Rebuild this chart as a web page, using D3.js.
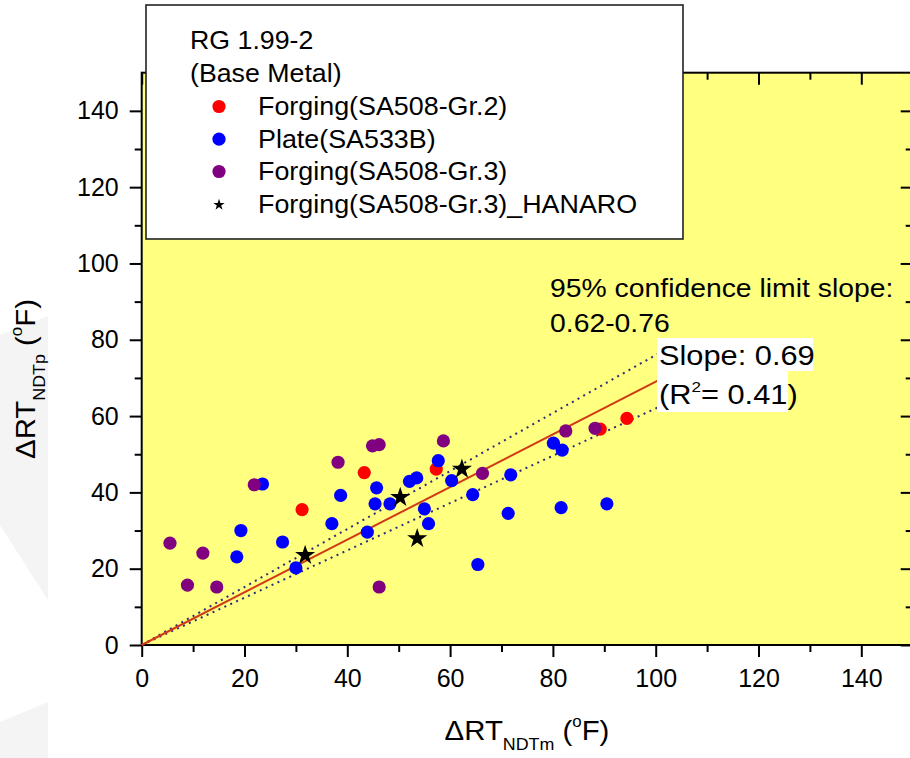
<!DOCTYPE html>
<html>
<head>
<meta charset="utf-8">
<script src="https://cdn.jsdelivr.net/npm/d3@7"></script>
<style>
  html, body { margin: 0; padding: 0; background: #ffffff; }
  svg { display: block; font-family: "Liberation Sans", Arial, sans-serif; }
</style>
</head>
<body>
<svg id="chart" width="910" height="758"></svg>
<script>
// ---------------- data ----------------
const forgingGr2X = [31.2, 43.3, 57.3, 89.2, 94.4];
const forgingGr2Y = [35.5, 45.2, 46.1, 56.6, 59.4];

const plateX = [23.5, 19.3, 18.5, 27.4, 30.0, 37.0, 38.7, 43.9, 45.7, 45.4, 48.3, 52.1, 53.5,
                57.7, 60.3, 64.4, 55.0, 55.8, 65.4, 71.8, 71.3, 80.1, 81.8, 81.6, 90.5];
const plateY = [42.2, 30.0, 23.1, 27.0, 20.2, 31.8, 39.2, 29.6, 41.2, 37.0, 37.0, 42.9, 43.8,
                48.3, 43.1, 39.4, 35.7, 31.8, 21.1, 44.6, 34.5, 52.9, 51.1, 36.0, 37.0];

const forgingGr3X = [5.5, 11.9, 8.9, 14.6, 21.9, 38.2, 44.9, 46.2, 46.2, 58.7, 66.3, 82.5, 88.2];
const forgingGr3Y = [26.7, 24.1, 15.7, 15.2, 42.0, 47.9, 52.2, 52.5, 15.2, 53.5, 45.0, 56.1, 56.8];

const hanaroX = [31.8, 50.3, 53.6, 62.3];
const hanaroY = [23.5, 38.7, 27.9, 46.1];

const fitSlope = 0.69;
const lowerSlope = 0.62;
const upperSlope = 0.76;
const fitEndX = 104;
const bandEndX = 105;

const xMajorTicks = [0, 20, 40, 60, 80, 100, 120, 140];
const xMinorTicks = [10, 30, 50, 70, 90, 110, 130];
const yMajorTicks = [0, 20, 40, 60, 80, 100, 120, 140];
const yMinorTicks = [10, 30, 50, 70, 90, 110, 130];

const seriesNames = ["Forging(SA508-Gr.2)", "Plate(SA533B)", "Forging(SA508-Gr.3)", "Forging(SA508-Gr.3)_HANARO"];
const seriesColors = ["#ff0000", "#0000ff", "#800080", "#000000"];
const legendTitle1 = "RG 1.99-2";
const legendTitle2 = "(Base Metal)";

// ---------------- layout ----------------
const svg = d3.select("#chart");
const L = 141.7, R = 912.7, T = 72.7, B = 645;
const x = d3.scaleLinear().domain([0, 150]).range([L, R]);
const y = d3.scaleLinear().domain([0, 150]).range([B, T]);

// faint background watermark shapes
svg.append("polygon").attr("points", "0,335 48,316 48,600 0,525").attr("fill", "#f4f4f4");
svg.append("polygon").attr("points", "0,722 48,702 48,758 0,758").attr("fill", "#f4f4f4");

// plot background
svg.append("rect").attr("x", L).attr("y", T).attr("width", R - L).attr("height", B - T)
  .attr("fill", "#ffff80");

// axes
function styleAxis(g) {
  g.select(".domain").remove();
  g.selectAll(".tick line").attr("stroke", "#000").attr("stroke-width", 2);
  g.selectAll(".tick text").attr("fill", "#000").attr("font-size", 25)
    .attr("font-family", "Liberation Sans, Arial, sans-serif");
}
svg.append("g").attr("transform", `translate(0,${B})`)
  .call(d3.axisBottom(x).tickValues(xMajorTicks).tickSize(12).tickPadding(12).tickFormat(d3.format("d")))
  .call(styleAxis);
svg.append("g").attr("transform", `translate(0,${B})`)
  .call(d3.axisBottom(x).tickValues(xMinorTicks).tickSize(7).tickFormat(""))
  .call(styleAxis);
svg.append("g").attr("transform", `translate(${L},0)`)
  .call(d3.axisLeft(y).tickValues(yMajorTicks).tickSize(12).tickPadding(11).tickFormat(d3.format("d")))
  .call(styleAxis);
svg.append("g").attr("transform", `translate(${L},0)`)
  .call(d3.axisLeft(y).tickValues(yMinorTicks).tickSize(7).tickFormat(""))
  .call(styleAxis);
svg.append("g").attr("transform", `translate(0,${T})`)
  .call(d3.axisTop(x).tickValues(xMajorTicks).tickSize(-12).tickFormat(""))
  .call(styleAxis);
svg.append("g").attr("transform", `translate(0,${T})`)
  .call(d3.axisTop(x).tickValues(xMinorTicks).tickSize(-7).tickFormat(""))
  .call(styleAxis);
svg.append("g").attr("transform", `translate(${R},0)`)
  .call(d3.axisRight(y).tickValues(yMajorTicks).tickSize(-12).tickFormat(""))
  .call(styleAxis);
svg.append("g").attr("transform", `translate(${R},0)`)
  .call(d3.axisRight(y).tickValues(yMinorTicks).tickSize(-7).tickFormat(""))
  .call(styleAxis);

// frame
svg.append("rect").attr("x", L).attr("y", T).attr("width", R - L).attr("height", B - T)
  .attr("fill", "none").attr("stroke", "#000").attr("stroke-width", 2);

// fit and confidence lines
const line = d3.line().x(d => x(d[0])).y(d => y(d[1]));
svg.append("path").datum([[0, 0], [bandEndX, upperSlope * bandEndX]]).attr("d", line)
  .attr("fill", "none").attr("stroke", "#2b2b7a").attr("stroke-width", 2).attr("stroke-dasharray", "2,4.5");
svg.append("path").datum([[0, 0], [bandEndX, lowerSlope * bandEndX]]).attr("d", line)
  .attr("fill", "none").attr("stroke", "#2b2b7a").attr("stroke-width", 2).attr("stroke-dasharray", "2,4.5");
svg.append("path").datum([[0, 0], [fitEndX, fitSlope * fitEndX]]).attr("d", line)
  .attr("fill", "none").attr("stroke", "#d13a14").attr("stroke-width", 2);

// points
function dots(xs, ys, color) {
  svg.append("g").selectAll("circle").data(xs.map((v, i) => [v, ys[i]])).join("circle")
    .attr("cx", d => x(d[0])).attr("cy", d => y(d[1])).attr("r", 6.6).attr("fill", color);
}
dots(forgingGr2X, forgingGr2Y, seriesColors[0]);
dots(plateX, plateY, seriesColors[1]);
dots(forgingGr3X, forgingGr3Y, seriesColors[2]);
const star = d3.symbol().type(d3.symbolStar).size(125);
svg.append("g").selectAll("path").data(hanaroX.map((v, i) => [v, hanaroY[i]])).join("path")
  .attr("transform", d => `translate(${x(d[0])},${y(d[1])})`).attr("d", star).attr("fill", seriesColors[3]);

// stretched text helper
function stext(parent, tx, ty, sx, size, str) {
  return parent.append("text").attr("transform", `translate(${tx},${ty}) scale(${sx},1)`)
    .attr("font-size", size).attr("fill", "#000").text(str);
}

// annotations
stext(svg, 550, 297, 1.09, 26, "95% confidence limit slope:");
stext(svg, 550, 332, 1.09, 26, "0.62-0.76");
svg.append("rect").attr("x", 657).attr("y", 338).attr("width", 156).attr("height", 33).attr("fill", "#fff");
svg.append("rect").attr("x", 657).attr("y", 371).attr("width", 131).attr("height", 41).attr("fill", "#fff");
stext(svg, 659, 365, 1.14, 27, "Slope: 0.69");
const r2 = svg.append("text").attr("transform", "translate(659,404) scale(1.14,1)")
  .attr("font-size", 27).attr("fill", "#000");
r2.append("tspan").text("(R");
r2.append("tspan").attr("font-size", 15).attr("dy", -12).text("2");
r2.append("tspan").attr("dy", 12).text("= 0.41)");

// axis titles
function axisTitle(g, main, sub) {
  g.append("tspan").text(main);
  g.append("tspan").attr("font-size", 17).attr("dy", 10).text(sub);
  g.append("tspan").attr("dy", -10).text(" (");
  g.append("tspan").attr("font-size", 16).attr("dy", -13).text("o");
  g.append("tspan").attr("dy", 13).text("F)");
}
const xt = svg.append("text").attr("transform", "translate(527,740) scale(1.05,1)")
  .attr("text-anchor", "middle").attr("font-size", 28).attr("fill", "#000");
axisTitle(xt, "\u0394RT", "NDTm");
const yt = svg.append("text").attr("transform", "translate(35,379) rotate(-90) scale(1.05,1)")
  .attr("text-anchor", "middle").attr("font-size", 28).attr("fill", "#000");
axisTitle(yt, "\u0394RT", "NDTp");

// legend
const lg = svg.append("g");
lg.append("rect").attr("x", 146).attr("y", 5).attr("width", 537).attr("height", 234)
  .attr("fill", "#fff").attr("stroke", "#222").attr("stroke-width", 1.6);
stext(lg, 190, 49.3, 1.07, 25, legendTitle1);
stext(lg, 190, 81.7, 1.07, 25, legendTitle2);
const legBase = [115, 147.7, 180, 213.3];
seriesNames.forEach((name, i) => {
  const cy = legBase[i] - 8.5;
  if (i < 3) {
    lg.append("circle").attr("cx", 219).attr("cy", cy).attr("r", 6.6).attr("fill", seriesColors[i]);
  } else {
    lg.append("path").attr("transform", `translate(219,${cy})`)
      .attr("d", d3.symbol().type(d3.symbolStar).size(40)).attr("fill", seriesColors[i]);
  }
  stext(lg, 258, legBase[i], 1.075, 25, name);
});
</script>
</body>
</html>
